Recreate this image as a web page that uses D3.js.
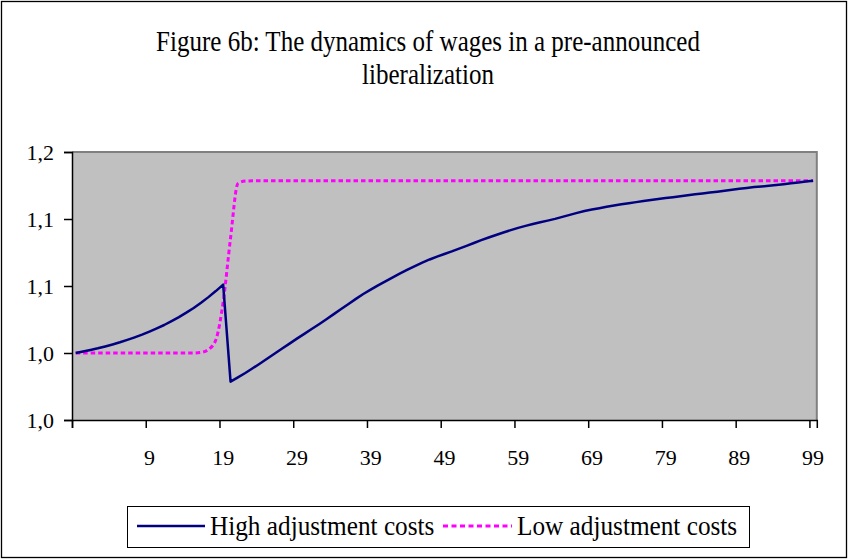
<!DOCTYPE html>
<html>
<head>
<meta charset="utf-8">
<script src="https://cdn.jsdelivr.net/npm/d3@7"></script>
<style>
html,body{margin:0;padding:0;background:#fff;}
svg{display:block;}
text{font-family:"Liberation Serif","Times New Roman",serif;fill:#000;}
</style>
</head>
<body>
<svg id="chart" width="849" height="560"></svg>
<script>
// ---- data ----
const titleLines = ["Figure 6b: The dynamics of wages in a pre-announced", "liberalization"];
const seriesNames = ["High adjustment costs", "Low adjustment costs"];
const categories = d3.range(101); // 101 periods on the category axis

const highCosts = [
1.0000,1.0011,1.0023,1.0035,1.0049,1.0064,1.0080,1.0098,1.0117,1.0137,
1.0160,1.0184,1.0209,1.0238,1.0268,1.0301,1.0336,1.0375,1.0417,1.0462,
1.0510,0.9786,0.9818,0.9851,0.9886,0.9922,0.9959,0.9996,1.0033,1.0070,
1.0107,1.0143,1.0179,1.0215,1.0252,1.0290,1.0328,1.0366,1.0404,1.0440,
1.0473,1.0505,1.0535,1.0565,1.0594,1.0622,1.0649,1.0675,1.0698,1.0719,
1.0739,1.0758,1.0779,1.0800,1.0821,1.0842,1.0862,1.0881,1.0899,1.0917,
1.0934,1.0949,1.0963,1.0976,1.0988,1.1001,1.1016,1.1031,1.1046,1.1060,
1.1071,1.1081,1.1091,1.1101,1.1110,1.1118,1.1126,1.1134,1.1142,1.1149,
1.1156,1.1163,1.1170,1.1177,1.1184,1.1191,1.1197,1.1204,1.1211,1.1218,
1.1225,1.1232,1.1238,1.1243,1.1248,1.1254,1.1260,1.1266,1.1272,1.1279,
1.1286];

const lowCosts = [
1.0000,1.0000,1.0000,1.0000,1.0000,1.0000,1.0000,1.0000,1.0000,1.0000,
1.0000,1.0000,1.0000,1.0000,1.0000,1.0000,1.0000,1.0004,1.0026,1.0097,
1.0381,1.0858,1.1265,1.1283,1.1285,1.1285,1.1285,1.1285,1.1285,1.1285,
1.1285,1.1285,1.1285,1.1285,1.1285,1.1285,1.1285,1.1285,1.1285,1.1285,
1.1285,1.1285,1.1285,1.1285,1.1285,1.1285,1.1285,1.1285,1.1285,1.1285,
1.1285,1.1285,1.1285,1.1285,1.1285,1.1285,1.1285,1.1285,1.1285,1.1285,
1.1285,1.1285,1.1285,1.1285,1.1285,1.1285,1.1285,1.1285,1.1285,1.1285,
1.1285,1.1285,1.1285,1.1285,1.1285,1.1285,1.1285,1.1285,1.1285,1.1285,
1.1285,1.1285,1.1285,1.1285,1.1285,1.1285,1.1285,1.1285,1.1285,1.1285,
1.1285,1.1285,1.1285,1.1285,1.1285,1.1285,1.1285,1.1285,1.1285,1.1285,
1.1285];

const yTickValues = [0.95, 1.00, 1.05, 1.10, 1.15];
const yTickLabels = ["1,0", "1,0", "1,1", "1,1", "1,2"];
const xTickIndex = [0, 10, 20, 30, 40, 50, 60, 70, 80, 90, 100];
const xLabelIndex = [10, 20, 30, 40, 50, 60, 70, 80, 90, 100];
const xTickLabels = ["9", "19", "29", "39", "49", "59", "69", "79", "89", "99"];

// ---- layout ----
const svg = d3.select("#chart");
const plot = {left: 72, top: 152, right: 816.8, bottom: 420};
const serif = "Liberation Serif, Times New Roman, serif";

svg.append("rect").attr("x", 1.5).attr("y", 1.5).attr("width", 845).attr("height", 556)
  .attr("fill", "#fff").attr("stroke", "#000").attr("stroke-width", 1.3);

const x = d3.scaleBand().domain(categories).range([plot.left, plot.right]).paddingInner(0).paddingOuter(0);
const xEdge = d3.scaleLinear().domain([0, categories.length]).range([plot.left, plot.right]);
const y = d3.scaleLinear().domain([0.95, 1.15]).range([plot.bottom, plot.top]);

// plot area
svg.append("rect")
  .attr("x", plot.left).attr("y", plot.top)
  .attr("width", plot.right - plot.left).attr("height", plot.bottom - plot.top)
  .attr("fill", "#c0c0c0");
svg.append("path")
  .attr("d", `M${plot.left},${plot.top}H${plot.right}V${plot.bottom}`)
  .attr("fill", "none").attr("stroke", "#808080").attr("stroke-width", 2);

// title (slightly tall letterforms as in the reference)
svg.append("g").selectAll("text").data(titleLines).join("text")
  .attr("transform", (d, i) => `translate(428,${51 + i * 33}) scale(1,1.15)`)
  .attr("text-anchor", "middle").attr("font-size", 25)
  .text(d => d);

// lines
const px = i => x(i) + x.bandwidth() / 2;
const lineHigh = d3.line().x((d, i) => px(i)).y(d => y(d));
const lineLow = d3.line().x((d, i) => px(i)).y(d => y(d)).curve(d3.curveMonotoneX);

svg.append("path").datum(lowCosts).attr("d", lineLow)
  .attr("fill", "none").attr("stroke", "#ff00ff").attr("stroke-width", 3)
  .attr("stroke-dasharray", "4.5,3");
svg.append("path").datum(highCosts).attr("d", lineHigh)
  .attr("fill", "none").attr("stroke", "#000080").attr("stroke-width", 2.5)
  .attr("stroke-linejoin", "round");

// y axis
const yAxis = svg.append("g").attr("transform", `translate(${plot.left},0)`)
  .call(d3.axisLeft(y).tickValues(yTickValues).tickSize(8).tickPadding(10)
    .tickFormat((d, i) => yTickLabels[i]));
yAxis.select(".domain").attr("stroke", "#000").attr("stroke-width", 1.5);
yAxis.selectAll(".tick line").attr("stroke", "#000").attr("stroke-width", 1.5);
yAxis.selectAll("text").attr("font-size", 22).attr("font-family", serif);

// x axis ticks (between categories)
const xAxisTicks = svg.append("g").attr("transform", `translate(0,${plot.bottom})`)
  .call(d3.axisBottom(xEdge).tickValues(xTickIndex).tickSize(8).tickFormat(""));
xAxisTicks.select(".domain").attr("stroke", "#000").attr("stroke-width", 1.5);
xAxisTicks.selectAll(".tick line").attr("stroke", "#000").attr("stroke-width", 1.5);

// x axis labels (centered on categories)
const xAxisLabels = svg.append("g").attr("transform", `translate(0,${plot.bottom})`)
  .call(d3.axisBottom(x).tickValues(xLabelIndex).tickSize(0).tickPadding(29)
    .tickFormat((d, i) => xTickLabels[i]));
xAxisLabels.select(".domain").remove();
xAxisLabels.selectAll("text").attr("font-size", 22).attr("font-family", serif);

// legend
const lg = svg.append("g");
lg.append("rect").attr("x", 127.5).attr("y", 506.5).attr("width", 622).attr("height", 41)
  .attr("fill", "#fff").attr("stroke", "#000").attr("stroke-width", 1);
const legendItems = [
  {name: seriesNames[0], color: "#000080", dash: null, w: 2.5, x0: 137, x1: 205, tx: 210},
  {name: seriesNames[1], color: "#ff00ff", dash: "5,3.5", w: 3, x0: 443, x1: 512, tx: 517}
];
legendItems.forEach(it => {
  lg.append("line").attr("x1", it.x0).attr("x2", it.x1).attr("y1", 526).attr("y2", 526)
    .attr("stroke", it.color).attr("stroke-width", it.w)
    .attr("stroke-dasharray", it.dash);
  lg.append("text").attr("transform", `translate(${it.tx},535) scale(1.01,1.12)`)
    .attr("font-size", 25).text(it.name);
});
</script>
</body>
</html>
